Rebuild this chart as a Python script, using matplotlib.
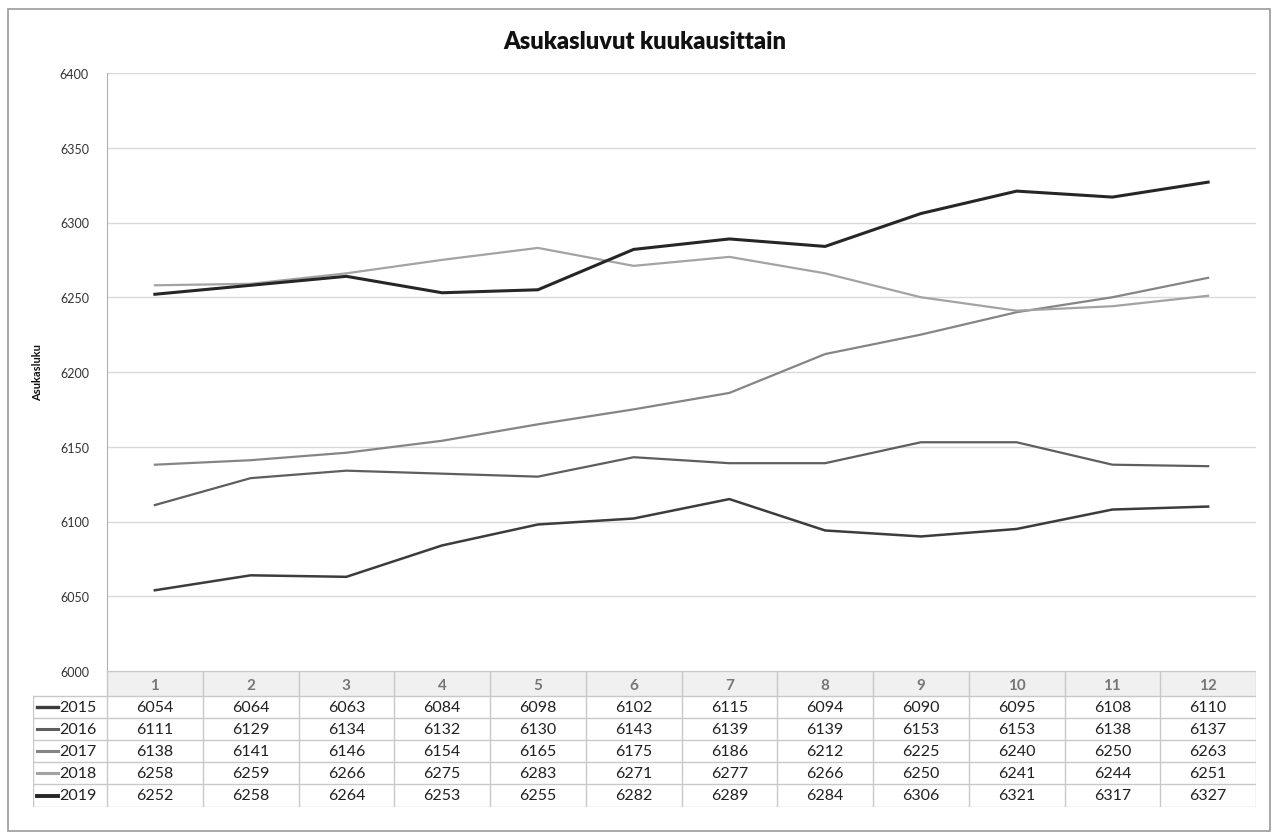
import matplotlib
matplotlib.use("Agg")
import matplotlib.pyplot as plt
from matplotlib.patches import Rectangle

plt.rcParams['font.family'] = ['Lato', 'DejaVu Sans']

months = ["1", "2", "3", "4", "5", "6", "7", "8", "9", "10", "11", "12"]
years = ["2015", "2016", "2017", "2018", "2019"]
v2015 = [6054, 6064, 6063, 6084, 6098, 6102, 6115, 6094, 6090, 6095, 6108, 6110]
v2016 = [6111, 6129, 6134, 6132, 6130, 6143, 6139, 6139, 6153, 6153, 6138, 6137]
v2017 = [6138, 6141, 6146, 6154, 6165, 6175, 6186, 6212, 6225, 6240, 6250, 6263]
v2018 = [6258, 6259, 6266, 6275, 6283, 6271, 6277, 6266, 6250, 6241, 6244, 6251]
v2019 = [6252, 6258, 6264, 6253, 6255, 6282, 6289, 6284, 6306, 6321, 6317, 6327]
series = [v2015, v2016, v2017, v2018, v2019]
yticks = [6000, 6050, 6100, 6150, 6200, 6250, 6300, 6350, 6400]

colors = ["#3c3c3c", "#5e5e5e", "#858585", "#a3a3a3", "#262626"]
widths = [1.8, 1.6, 1.6, 1.6, 2.2]

W, H = 1274, 837
fig = plt.figure(figsize=(W / 100, H / 100), dpi=100)

def fx(px):
    return px / W

def fy(py):
    return 1 - py / H

# outer border
fig.patches.append(Rectangle((fx(8), fy(832)), fx(1262), (832 - 10) / H,
                             transform=fig.transFigure, fill=False,
                             edgecolor="#9a9a9a", linewidth=1.2))

left_px, right_px, top_px, bot_px = 107, 1256, 74, 672
ax = fig.add_axes([fx(left_px), fy(bot_px), fx(right_px - left_px), (bot_px - top_px) / H])
x = list(range(1, 13))
for vals, c, lw in zip(series, colors, widths):
    ax.plot(x, vals, color=c, linewidth=lw, solid_joinstyle="round")
ax.set_xlim(0.5, 12.5)
ax.set_ylim(6000, 6400)
ax.set_yticks(yticks)
ax.set_yticklabels([str(t) for t in yticks], fontsize=9, color="#333333")
ax.set_xticks([])
ax.grid(axis="y", color="#d9d9d9", linewidth=1)
ax.tick_params(axis="y", length=0, pad=13)
for s in ["top", "right", "bottom"]:
    ax.spines[s].set_visible(False)
ax.spines["left"].set_color("#b0b0b0")
ax.set_axisbelow(True)

fig.text(fx(645), fy(42), "Asukasluvut kuukausittain", ha="center", va="center",
         fontsize=17, fontweight="heavy", color="#111111")
fig.text(fx(38), fy(373), "Asukasluku", ha="center", va="center", rotation=90,
         fontsize=8, fontweight="bold", color="#111111")

# table
col_w = (right_px - left_px) / 12.0
tab_left_px = 33
tab_top_px, tab_bot_px = 672, 808
tax = fig.add_axes([fx(tab_left_px), fy(tab_bot_px), fx(right_px - tab_left_px),
                    (tab_bot_px - tab_top_px) / H])
xl = 0.5 - (left_px - tab_left_px) / col_w
tax.set_xlim(xl, 12.5)
row_h = [25, 22, 22, 22, 22, 23]
total = sum(row_h)
tax.set_ylim(total, 0)
tax.axis("off")

edges = [0]
for h in row_h:
    edges.append(edges[-1] + h)

# header background
tax.add_patch(Rectangle((0.5, 0), 12, row_h[0], facecolor="#f0f0f0", edgecolor="none"))
grid_c = "#c8c8c8"
for i, e in enumerate(edges):
    x0 = 0.5 if i == 0 else xl
    tax.plot([x0, 12.5], [e, e], color=grid_c, linewidth=1)
for k in range(13):
    xv = 0.5 + k
    tax.plot([xv, xv], [0, total], color=grid_c, linewidth=1)
tax.plot([xl + 0.005, xl + 0.005], [edges[1], total], color=grid_c, linewidth=1)

for j, m in enumerate(months):
    tax.text(j + 1, row_h[0] / 2 + 1, m, ha="center", va="center", fontsize=11,
             fontweight="bold", color="#777777")

for i, (yr, vals, c, lw) in enumerate(zip(years, series, colors, widths)):
    yc = (edges[i + 1] + edges[i + 2]) / 2
    lx0 = xl + 0.04
    tax.plot([lx0, lx0 + 0.22], [yc, yc], color=c, linewidth=lw + 0.6)
    tax.text(lx0 + 0.23, yc, yr, ha="left", va="center", fontsize=11.5, color="#222222")
    for j, v in enumerate(vals):
        tax.text(j + 1, yc, str(v), ha="center", va="center", fontsize=11.5, color="#222222")

fig.savefig("out.png", dpi=100, facecolor="white")
